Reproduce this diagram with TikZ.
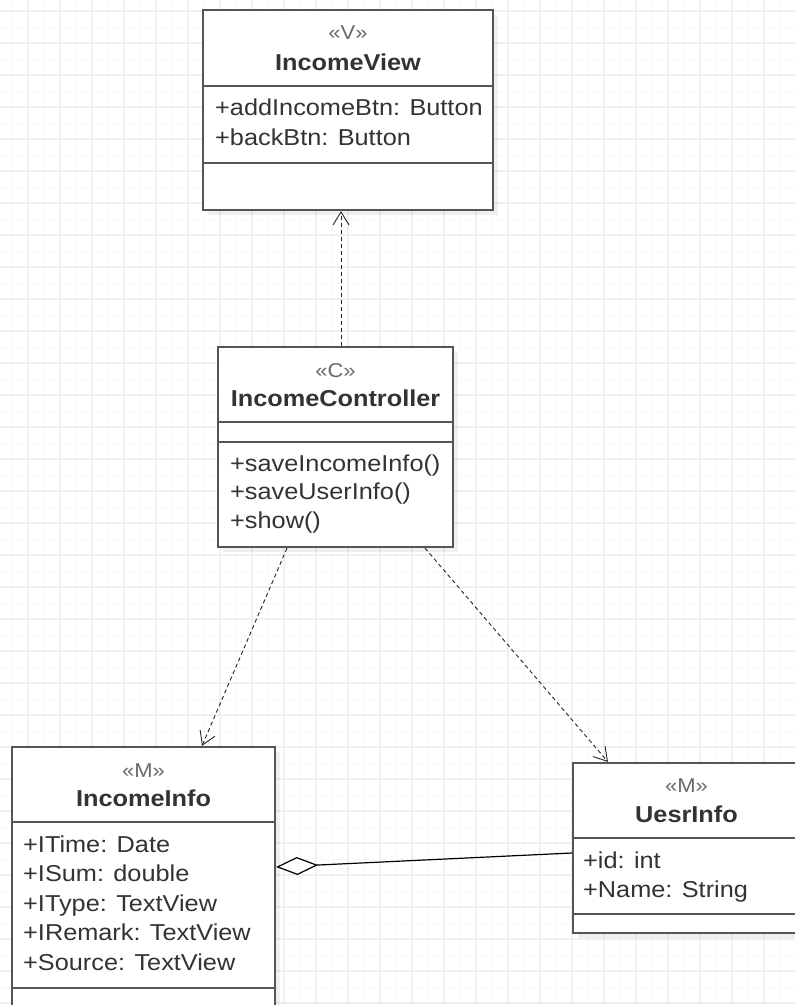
\documentclass[tikz,border=0pt]{standalone}
\usepackage{fontspec}
\setmainfont{Liberation Sans}[FakeStretch=1.1]
\usetikzlibrary{arrows.meta,shadows}

\definecolor{gridmajor}{HTML}{F0F0F0}
\definecolor{gridminor}{HTML}{F8F8F8}
\definecolor{boxline}{HTML}{555555}
\definecolor{txt}{HTML}{333333}
\definecolor{stereo}{HTML}{6A6A6A}

\tikzset{
  classbox/.style={draw=boxline, line width=2.2pt, fill=white, inner sep=0pt,
    drop shadow={shadow xshift=5pt, shadow yshift=-5pt, fill=black, opacity=0.06}},
  divider/.style={draw=boxline, line width=2.2pt},
  stereotype/.style={anchor=base, inner sep=0pt, text=stereo, font=\fontsize{20}{24}\selectfont},
  classname/.style={anchor=base, inner sep=0pt, text=txt, font=\fontsize{23}{27}\selectfont\bfseries},
  member/.style={anchor=base west, inner sep=0pt, text=txt, font=\fontsize{23}{27}\selectfont},
  dep/.style={draw=black!85, line width=0.9pt, dash pattern=on 4pt off 3pt,
    -{Straight Barb[length=13pt,width=16pt]}},
  agg/.style={draw=black, line width=1.2pt, {Diamond[fill=white,length=42pt,width=18pt]}-},
}

\begin{document}
\begin{tikzpicture}[x=1pt,y=-1pt]
\useasboundingbox (0,0) rectangle (795,1005);
\clip (0,0) rectangle (795,1005);
\fill[white] (0,0) rectangle (795,1005);

% background grid
\foreach \k in {0,...,25} {
  \draw[gridminor, line width=1pt] ({12+32*\k},0) -- ({12+32*\k},1005);
}
\foreach \k in {0,...,31} {
  \draw[gridminor, line width=1pt] (0,{27+32*\k}) -- (795,{27+32*\k});
}
\foreach \k in {-1,...,24} {
  \draw[gridmajor, line width=1.2pt] ({28+32*\k},0) -- ({28+32*\k},1005);
}
\foreach \k in {0,...,31} {
  \draw[gridmajor, line width=1.2pt] (0,{11+32*\k}) -- (795,{11+32*\k});
}

% IncomeView
\node[classbox, minimum width=290pt, minimum height=200pt] (view) at (348,110) {};
\draw[divider] (view.west |- 0,86) -- (view.east |- 0,86);
\draw[divider] (view.west |- 0,163) -- (view.east |- 0,163);
\node[stereotype] (viewS) at (348,39) {«V»};
\node[classname] (viewN) at (348,70) {IncomeView};
\node[member] (viewA1) at (215,115) {+addIncomeBtn: Button};
\node[member] (viewA2) at (215,145) {+backBtn: Button};

% IncomeController
\node[classbox, minimum width=235pt, minimum height=200pt] (ctrl) at (335.5,447) {};
\draw[divider] (ctrl.west |- 0,422) -- (ctrl.east |- 0,422);
\draw[divider] (ctrl.west |- 0,442) -- (ctrl.east |- 0,442);
\node[stereotype] (ctrlS) at (335.5,377) {«C»};
\node[classname] (ctrlN) at (335.5,406) {IncomeController};
\node[member] (ctrlM1) at (230,471) {+saveIncomeInfo()};
\node[member] (ctrlM2) at (230,499) {+saveUserInfo()};
\node[member] (ctrlM3) at (230,528) {+show()};

% IncomeInfo
\node[classbox, minimum width=263pt, minimum height=293pt] (info) at (143.5,893.5) {};
\draw[divider] (info.west |- 0,822) -- (info.east |- 0,822);
\draw[divider] (info.west |- 0,988) -- (info.east |- 0,988);
\node[stereotype] (infoS) at (143.5,777) {«M»};
\node[classname] (infoN) at (143.5,806) {IncomeInfo};
\node[member] (infoA1) at (23,852) {+ITime: Date};
\node[member] (infoA2) at (23,881) {+ISum: double};
\node[member] (infoA3) at (23,911) {+IType: TextView};
\node[member] (infoA4) at (23,940) {+IRemark: TextView};
\node[member] (infoA5) at (23,970) {+Source: TextView};

% UesrInfo
\node[classbox, minimum width=227pt, minimum height=170pt] (user) at (686.5,848) {};
\draw[divider] (user.west |- 0,838) -- (user.east |- 0,838);
\draw[divider] (user.west |- 0,914) -- (user.east |- 0,914);
\node[stereotype] (userS) at (686.5,792) {«M»};
\node[classname] (userN) at (686.5,822) {UesrInfo};
\node[member] (userA1) at (583,868) {+id: int};
\node[member] (userA2) at (583,897) {+Name: String};

% relations
\draw[dep] ([xshift=5.5pt]ctrl.north) -- ([xshift=-7pt]view.south);
\draw[dep] ([xshift=-48.5pt]ctrl.south) -- ([xshift=58.5pt]info.north);
\draw[dep] ([xshift=89.5pt]ctrl.south) -- ([xshift=-78.5pt]user.north);
\draw[agg] ([yshift=26.5pt]info.east) -- ([yshift=-5pt]user.west);
\end{tikzpicture}
\end{document}
